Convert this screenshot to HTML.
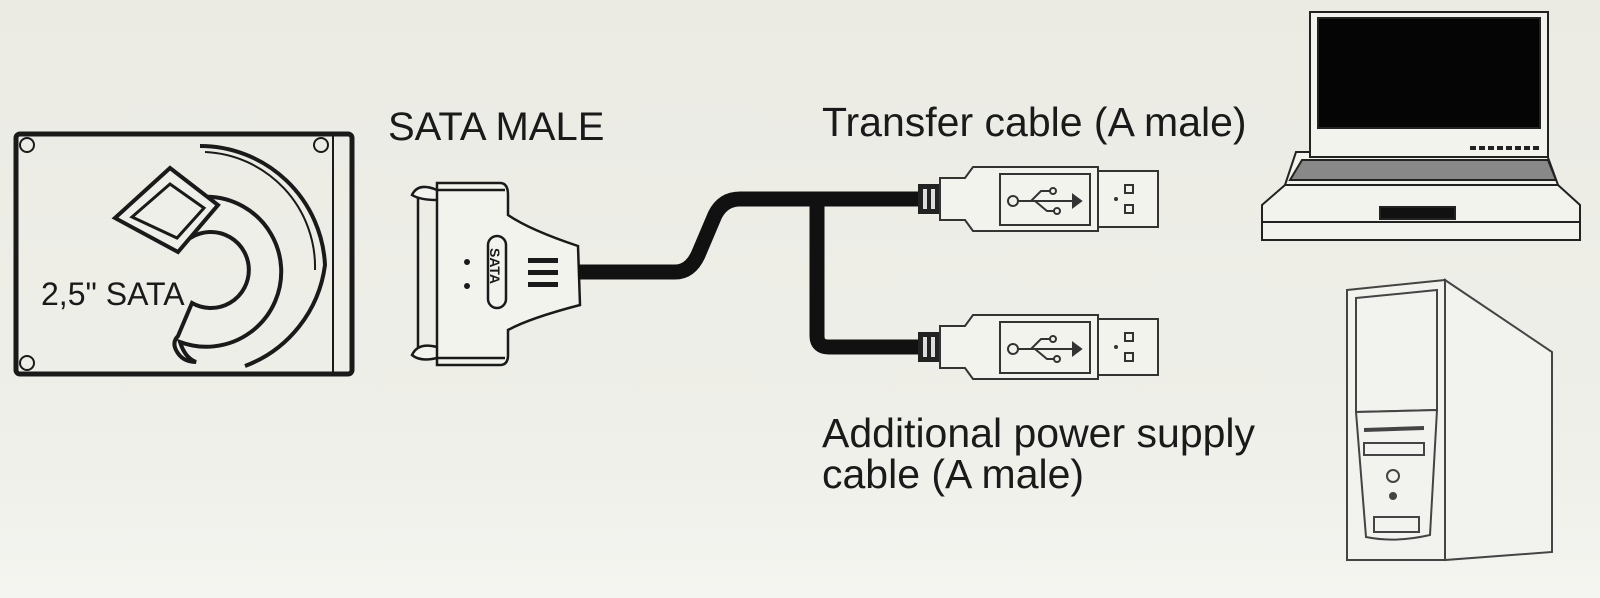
<!DOCTYPE html>
<html><head><meta charset="utf-8"><style>
html,body{margin:0;padding:0;}
body{width:1600px;height:598px;overflow:hidden;background:#eeeee8;}
svg{display:block}
text{font-family:"Liberation Sans",Arial,sans-serif;fill:#1a1a1a;}
</style></head><body>
<svg width="1600" height="598" viewBox="0 0 1600 598" xmlns="http://www.w3.org/2000/svg">
<defs>
<linearGradient id="bg" x1="0" y1="0" x2="0" y2="1">
<stop offset="0" stop-color="#ebebe4"/><stop offset="0.7" stop-color="#efefe9"/><stop offset="1" stop-color="#f4f4f0"/>
</linearGradient>
<g id="usb">
<rect x="0" y="-15" width="22" height="30" fill="#222"/>
<rect x="5" y="-10" width="4" height="20" fill="#ddd"/>
<rect x="13" y="-10" width="4" height="20" fill="#ddd"/>
<path d="M22,-21 L47,-21 L55,-32 L180,-32 L180,32 L55,32 L47,21 L22,21 Z" fill="#f3f3ee" stroke="#333" stroke-width="2"/>
<rect x="82" y="-25" width="90" height="51" fill="none" stroke="#333" stroke-width="2"/>
<rect x="180" y="-28" width="60" height="56" fill="#f3f3ee" stroke="#333" stroke-width="2"/>
<rect x="207" y="-14" width="8" height="8" fill="none" stroke="#333" stroke-width="2"/>
<rect x="207" y="6" width="8" height="8" fill="none" stroke="#333" stroke-width="2"/>
<circle cx="198" cy="0" r="2" fill="#333"/>
<g stroke="#333" stroke-width="2" fill="none">
<circle cx="95" cy="2" r="5"/>
<path d="M100,2 L155,2 M113,2 L123,-8 L133,-8 M117,2 L129,12 L137,12"/>
<circle cx="135" cy="-8" r="3"/><circle cx="139" cy="12" r="3"/>
<path d="M155,-4 L163,2 L155,8 Z" fill="#333"/>
</g>
</g>
</defs>
<rect width="1600" height="598" fill="url(#bg)"/>

<!-- HDD -->
<g stroke="#1a1a1a" fill="none">
<rect x="16" y="134" width="336" height="240" rx="4" stroke-width="5"/>
<line x1="333" y1="136" x2="333" y2="372" stroke-width="2"/>
<circle cx="27" cy="145" r="7" stroke-width="2"/>
<circle cx="27" cy="363" r="7" stroke-width="2"/>
<circle cx="321" cy="145" r="7" stroke-width="2"/>
<path d="M200,146 A125,125 0 0 1 325,265 A125,125 0 0 1 245,366" stroke-width="4"/>
<path d="M205,152 A115,115 0 0 1 315,270" stroke-width="2"/>
<path d="M172,205 A75,75 0 1 1 180,342 Q185,358 196,362 Q182,362 176,350 Q172,342 178,336 L192,303 A38,38 0 1 0 192,237 Z" stroke-width="4" fill="#efefe9"/>
<path d="M115,218 L170,168 L218,205 L178,252 Z" stroke-width="4" fill="#efefe9"/>
<path d="M132,217 L170,184 L204,208 L177,238 Z" stroke-width="3"/>
</g>
<text x="41" y="305" font-size="32">2,5" SATA</text>

<!-- SATA connector -->
<g stroke="#1a1a1a" fill="#f3f3ee" stroke-width="2.5">
<path d="M418,195 L418,352" fill="none"/>
<path d="M437,190 Q418,182 412,195 Q420,200 437,200" />
<path d="M437,347 Q418,342 412,355 Q420,362 437,358" />
<path d="M437,183 L500,183 Q508,183 508,195 L508,215 Q530,230 578,246 L580,305 Q530,318 508,330 L508,355 Q508,365 500,365 L437,365 Z"/>
<line x1="437" y1="190" x2="505" y2="190"/>
<line x1="437" y1="358" x2="505" y2="358"/>
<rect x="488" y="236" width="18" height="72" rx="9"/>
</g>
<text transform="translate(490,248) rotate(90)" font-size="14" font-weight="bold">SATA</text>
<g fill="#1a1a1a">
<rect x="528" y="258" width="30" height="5"/><rect x="528" y="270" width="30" height="5"/><rect x="528" y="282" width="30" height="5"/>
<circle cx="467" cy="262" r="3"/><circle cx="467" cy="286" r="3"/>
</g>

<!-- cables -->
<path d="M578,272 L675,272 Q690,272 698,255 L715,215 Q723,199 740,199 L925,199" fill="none" stroke="#111" stroke-width="15"/>
<path d="M817,199 L817,336 Q817,347 829,347 L925,347" fill="none" stroke="#111" stroke-width="15"/>
<use href="#usb" x="918" y="199"/>
<use href="#usb" x="918" y="347"/>

<text x="822" y="136" font-size="41">Transfer cable (A male)</text>
<text x="822" y="447" font-size="41">Additional power supply</text>
<text x="822" y="488" font-size="41">cable (A male)</text>
<text x="388" y="140" font-size="40">SATA MALE</text>

<!-- laptop -->
<g stroke="#222" stroke-width="2" fill="#f3f3ee">
<path d="M1262,205 L1285,185 L1558,185 L1580,205 L1580,240 L1262,240 Z"/>
<line x1="1262" y1="222" x2="1580" y2="222"/>
<path d="M1285,185 L1296,152 L1546,152 L1558,185 Z"/>
<rect x="1310" y="12" width="238" height="145"/>
<rect x="1318" y="18" width="222" height="110" fill="#050505"/>
<path d="M1290,180 L1302,160 L1548,160 L1556,180 Z" fill="#888"/>
<rect x="1380" y="207" width="75" height="12" fill="#111"/>
<line x1="1470" y1="148" x2="1540" y2="148" stroke-dasharray="6,3" stroke-width="4"/>
</g>

<!-- tower -->
<g stroke="#444" stroke-width="2" fill="#f2f2ee">
<path d="M1445,280 L1552,352 L1552,552 L1445,560 Z"/>
<path d="M1347,290 L1445,280 L1445,560 L1347,560 Z"/>
<path d="M1356,298 L1437,290 L1437,410 L1356,412 Z"/>
<path d="M1356,412 L1437,410 L1430,535 Q1395,543 1366,537 Z"/>
<rect x="1364" y="443" width="60" height="12"/>
<line x1="1364" y1="430" x2="1424" y2="428" stroke-width="4"/>
<circle cx="1393" cy="476" r="6"/>
<circle cx="1393" cy="496" r="3" fill="#444"/>
<rect x="1374" y="517" width="45" height="15"/>
</g>
</svg>
</body></html>
